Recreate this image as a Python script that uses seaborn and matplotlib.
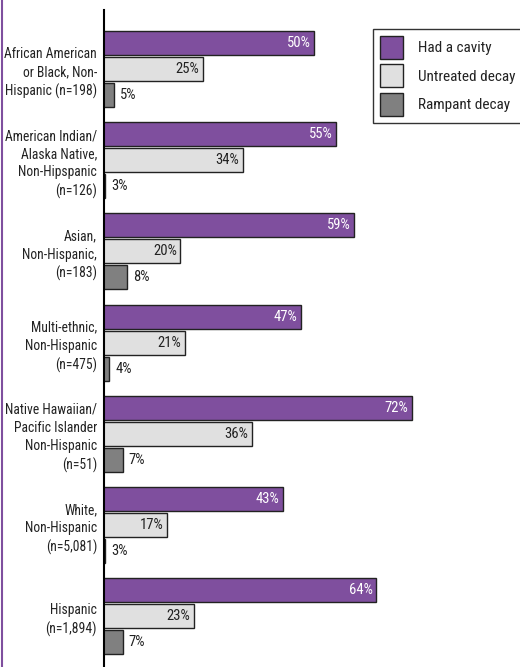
import matplotlib
matplotlib.use("Agg")
import matplotlib.pyplot as plt
from matplotlib.lines import Line2D
import seaborn as sns
import pandas as pd

categories = [
    "African American\nor Black, Non-\nHispanic (n=198)",
    "American Indian/\nAlaska Native,\nNon-Hipspanic\n(n=126)",
    "Asian,\nNon-Hispanic,\n(n=183)",
    "Multi-ethnic,\nNon-Hispanic\n(n=475)",
    "Native Hawaiian/\nPacific Islander\nNon-Hispanic\n(n=51)",
    "White,\nNon-Hispanic\n(n=5,081)",
    "Hispanic\n(n=1,894)",
]
series_names = ["Had a cavity", "Untreated decay", "Rampant decay"]
had_cavity = [50, 55, 59, 47, 72, 43, 64]
untreated_decay = [25, 34, 20, 21, 36, 17, 23]
rampant_decay = [5, 3, 8, 4, 7, 3, 7]

colors = ["#7f4f9e", "#e0e0e0", "#808080"]
text_colors = ["white", "#222222", "#222222"]

df = pd.DataFrame({
    "group": categories * 3,
    "measure": [series_names[0]] * 7 + [series_names[1]] * 7 + [series_names[2]] * 7,
    "value": had_cavity + untreated_decay + rampant_decay,
})

sns.set_theme(style="white")
plt.rcParams["font.family"] = ["Roboto Condensed", "Liberation Sans", "DejaVu Sans"]

fig = plt.figure(figsize=(5.2, 6.67), dpi=100)
ax = fig.add_axes([104 / 520, 0, 1 - 104 / 520, 657 / 667])

sns.barplot(data=df, y="group", x="value", hue="measure", orient="h",
            hue_order=series_names, order=categories,
            palette=colors, width=0.855, gap=0.07, saturation=1,
            edgecolor="#222222", linewidth=1, ax=ax, errorbar=None)

ax.set_xlim(2.83, 96.3)
ax.set_ylim(6.557, -0.647)
ax.set_xlabel("")
ax.set_ylabel("")
ax.set_xticks([])
for s in ["top", "right", "bottom"]:
    ax.spines[s].set_visible(False)
ax.spines["left"].set_color("black")
ax.spines["left"].set_linewidth(1.5)
ax.tick_params(axis="y", length=0, pad=5, labelsize=9.8, colors="#222222")
for lab in ax.get_yticklabels():
    lab.set_linespacing(1.38)
    lab.set_horizontalalignment("right")

for i, cont in enumerate(ax.containers):
    for patch in cont.patches:
        w = patch.get_width()
        yc = patch.get_y() + patch.get_height() / 2
        label = f"{int(round(w))}%"
        if i < 2:
            ax.annotate(label, (w, yc), xytext=(-2.5, 0), textcoords="offset points",
                        ha="right", va="center", fontsize=10.5, color=text_colors[i])
        else:
            ax.annotate(label, (w, yc), xytext=(4.5, 0), textcoords="offset points",
                        ha="left", va="center", fontsize=10.5, color=text_colors[i])

handles, labels = ax.get_legend_handles_labels()
if ax.get_legend() is not None:
    ax.get_legend().remove()
leg = fig.legend(handles, labels, loc="upper left",
                 bbox_to_anchor=(373 / 520, 1 - 29 / 667),
                 frameon=True, fancybox=False, fontsize=11,
                 handlelength=1.5, handleheight=1.94, labelspacing=0.36,
                 handletextpad=1.0, borderpad=0.45, borderaxespad=0)
leg.get_frame().set_edgecolor("black")
leg.get_frame().set_linewidth(1)
for t in leg.get_texts():
    t.set_color("#222222")

fig.add_artist(Line2D([1.5 / 520, 1.5 / 520], [0, 1], transform=fig.transFigure,
                      color="#7f4f9e", linewidth=1.5))

fig.savefig("out.png", dpi=100)
